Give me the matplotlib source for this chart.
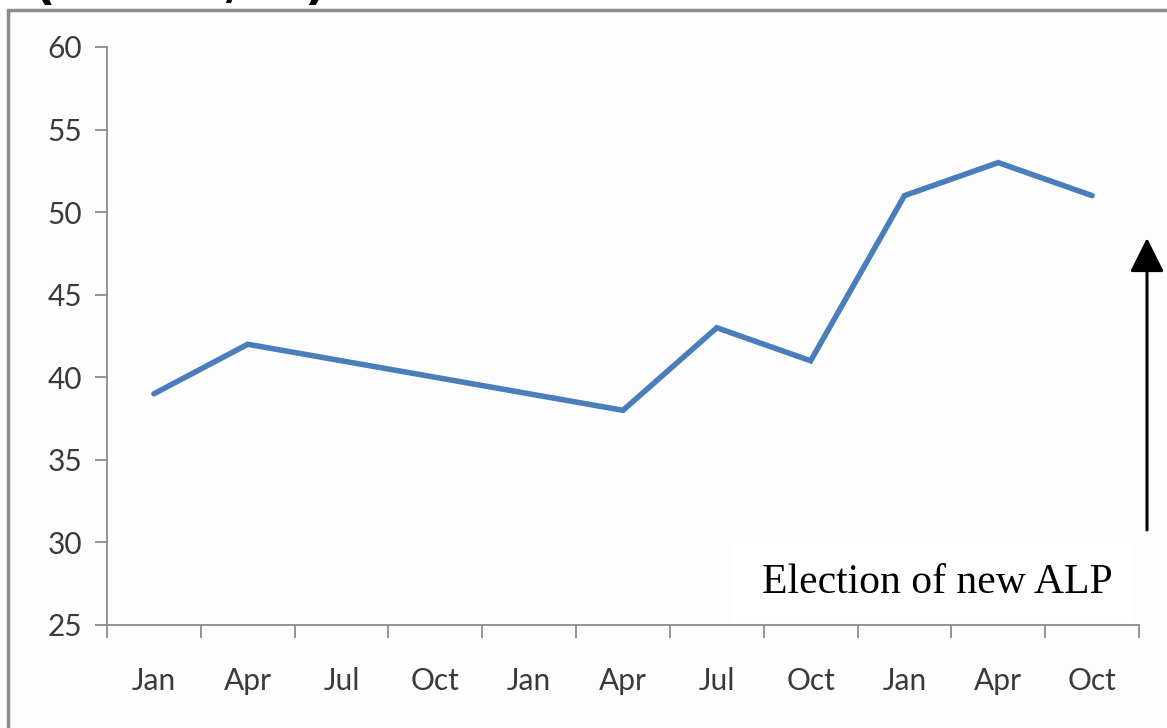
import matplotlib
matplotlib.use("Agg")
import matplotlib.pyplot as plt
from matplotlib.patches import Rectangle, FancyArrowPatch

# Quarterly series
months = ["Jan", "Apr", "Jul", "Oct", "Jan", "Apr", "Jul", "Oct", "Jan", "Apr", "Oct"]
values = [39, 42, 41, 40, 39, 38, 43, 41, 51, 53, 51]
y_ticks = [25, 30, 35, 40, 45, 50, 55, 60]
note_text = "Election of new ALP"

W, H = 1167, 728
fig = plt.figure(figsize=(W / 100, H / 100), dpi=100)
fig.patch.set_facecolor("white")

# Slide frame behind the chart
frame = Rectangle((8 / W, -0.2), 2.0, 1.2 - 10 / H, transform=fig.transFigure,
                  facecolor="#fdfdfd", edgecolor="#8c8c8c", linewidth=2.5, zorder=-5)
fig.patches.append(frame)

# Bottom fragments of a heading above the frame
for fx, ch in [(45, "("), (235, "/"), (315, ")")]:
    fig.text(fx / W, 1 + 1 / H, ch, fontsize=34, fontweight="bold", color="black",
             ha="center", va="baseline", family="DejaVu Sans")

ax = fig.add_axes([107 / W, 1 - 625 / H, (1139 - 107) / W, (625 - 47) / H])
ax.set_zorder(2)
ax.set_facecolor("none")

x = list(range(len(values)))
ax.plot(x, values, color="#4a7ebb", linewidth=4.0, solid_joinstyle="miter",
        solid_capstyle="round", zorder=3)

ax.set_xlim(-0.5, len(values) - 0.5)
ax.set_ylim(25, 60)
ax.set_yticks(y_ticks)
ax.set_yticklabels([str(v) for v in y_ticks])

ax.set_xticks(x)
ax.set_xticklabels(months)
ax.set_xticks([i - 0.5 for i in range(len(values) + 1)], minor=True)
ax.tick_params(axis="x", which="major", length=0, pad=30)
ax.tick_params(axis="x", which="minor", length=9, width=1.3, color="#8c8c8c", direction="out")
ax.tick_params(axis="y", length=9, width=1.3, color="#8c8c8c", pad=9, direction="out")

for lab in ax.get_xticklabels() + ax.get_yticklabels():
    lab.set_family("Lato")
    lab.set_fontsize(21.5)
    lab.set_color("#3a3a3a")

for side in ["top", "right"]:
    ax.spines[side].set_visible(False)
for side in ["left", "bottom"]:
    ax.spines[side].set_color("#8c8c8c")
    ax.spines[side].set_linewidth(1.3)

# Annotation box and arrow, drawn over the axes
box = Rectangle((733 / W, 1 - 622 / H), 400 / W, 77 / H, transform=fig.transFigure,
                facecolor="white", edgecolor="none", zorder=5)
fig.patches.append(box)
fig.text(937 / W, 1 - 583 / H, note_text, family="Liberation Serif", fontsize=30,
         color="black", ha="center", va="center", zorder=6)

arrow = FancyArrowPatch((1147 / W, 1 - 530 / H), (1147 / W, 1 - 238 / H),
                        transform=fig.transFigure, arrowstyle="-|>,head_length=1.4,head_width=0.7",
                        mutation_scale=15, color="black", linewidth=2.2, shrinkA=0, shrinkB=0,
                        zorder=6)
fig.patches.append(arrow)

fig.savefig("out.png", dpi=100)
